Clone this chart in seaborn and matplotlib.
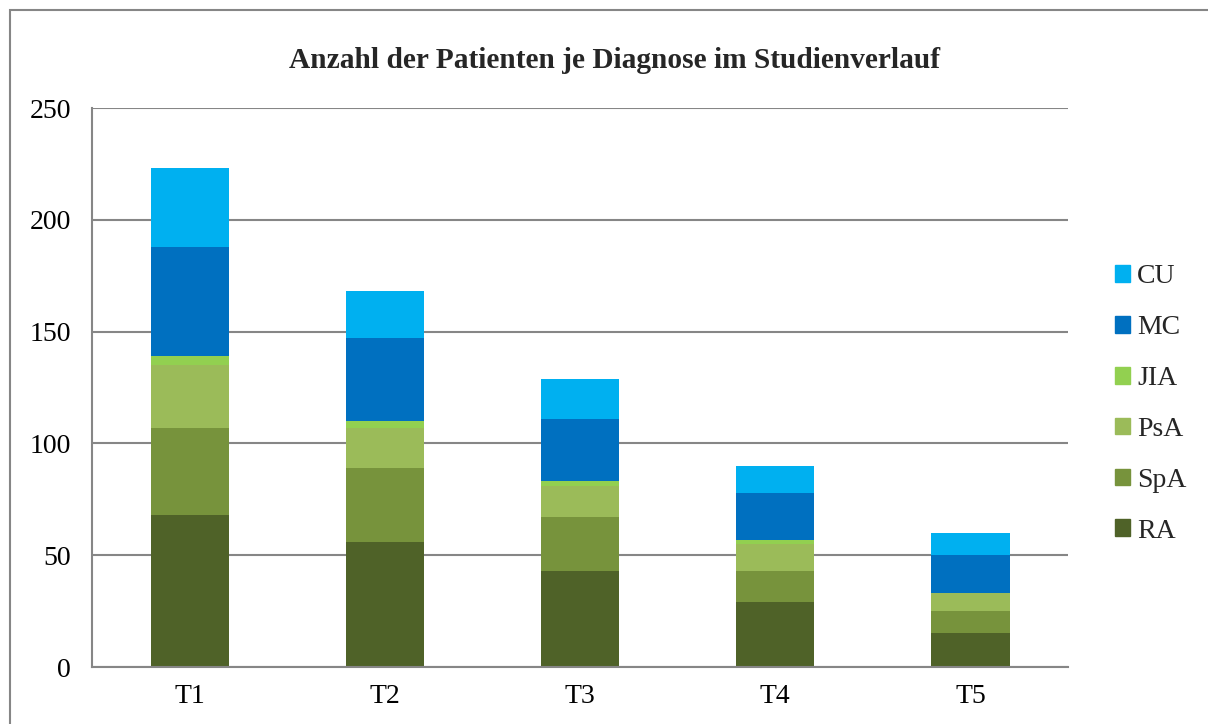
import matplotlib
matplotlib.use("Agg")
import matplotlib.pyplot as plt
import matplotlib.patches as mpatches
import numpy as np
import pandas as pd
import seaborn as sns

# Data
timepoints = ["T1", "T2", "T3", "T4", "T5"]
ra = [68, 56, 43, 29, 15]
spa = [39, 33, 24, 14, 10]
psa = [28, 18, 14, 12, 8]
jia = [4, 3, 2, 2, 0]
mc = [49, 37, 28, 21, 17]
cu = [35, 21, 18, 12, 10]

series_names = ["RA", "SpA", "PsA", "JIA", "MC", "CU"]
series_values = [ra, spa, psa, jia, mc, cu]
colors = ["#4F6228", "#77933C", "#9BBB59", "#92D050", "#0070C0", "#00B0F0"]

sns.set_theme(style="white")
plt.rcParams["font.family"] = ["Liberation Serif", "DejaVu Serif"]

fig = plt.figure(figsize=(12.08, 7.24), dpi=100)
ax = fig.add_axes([0.0762, 0.0787, 0.808, 0.772])

grid_color = "#868686"
bottom = np.zeros(len(timepoints))
handles = []
for name, vals, col in zip(series_names, series_values, colors):
    df = pd.DataFrame({"T": timepoints, "n": vals})
    sns.barplot(data=df, x="T", y="n", color=col, width=0.4, bottom=bottom,
                saturation=1, ax=ax, linewidth=0)
    bottom = bottom + np.array(vals)
    handles.append(mpatches.Patch(color=col, label=name))

ax.set_ylim(0, 250)
ax.set_yticks(range(0, 251, 50))
ax.set_xlim(-0.5, len(timepoints) - 0.5)
ax.yaxis.grid(True, color=grid_color, linewidth=1.5)
ax.set_axisbelow(True)
ax.set_xlabel("")
ax.set_ylabel("")

for s in ["top", "right"]:
    ax.spines[s].set_visible(False)
for s in ["left", "bottom"]:
    ax.spines[s].set_color(grid_color)
    ax.spines[s].set_linewidth(1.5)

# category ticks between bars, like the spreadsheet original
ax.set_xticks(np.arange(-0.5, len(timepoints), 1.0), minor=False)
ax.set_xticklabels([])
ax.set_xticks(range(len(timepoints)), minor=True)
ax.set_xticklabels(timepoints, minor=True)
ax.tick_params(axis="x", which="major", length=9, width=1.5, color=grid_color, direction="out")
ax.tick_params(axis="x", which="minor", length=0, pad=12, labelsize=20, labelcolor="black")
ax.tick_params(axis="y", length=9, width=1.5, color=grid_color, direction="out",
               labelsize=20, labelcolor="black", pad=6)

fig.suptitle("Anzahl der Patienten je Diagnose im Studienverlauf",
             x=615 / 1208, y=1 - 60 / 724, va="center",
             fontsize=21.2, fontweight="bold")

leg = fig.legend(handles=handles[::-1], loc="center left",
                 bbox_to_anchor=(0.923, 1 - 404 / 724), frameon=False, fontsize=20,
                 handlelength=0.55, handleheight=0.55, handletextpad=0.25,
                 labelspacing=0.93, borderaxespad=0, borderpad=0)

# outer chart frame
fig.patches.append(mpatches.Rectangle((10 / 1208, -0.01), 1.5, 1 - 10 / 724 + 0.01,
                                      transform=fig.transFigure, fill=False,
                                      edgecolor=grid_color, linewidth=1.5))

fig.savefig("out.png", dpi=100)
